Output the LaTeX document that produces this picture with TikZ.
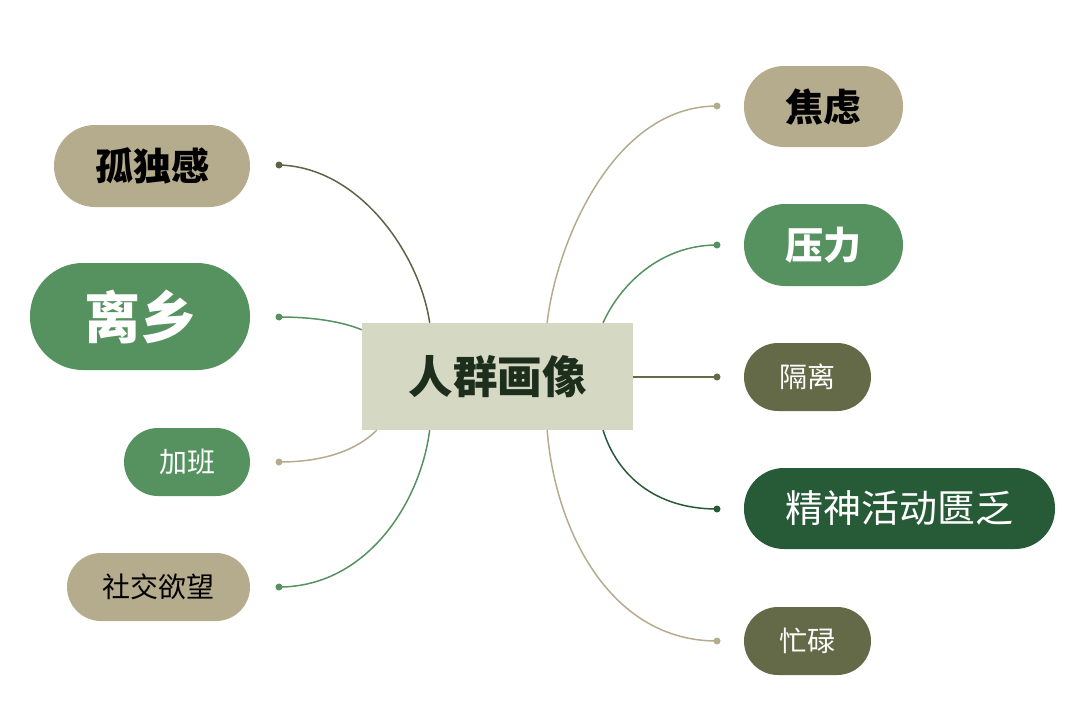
\documentclass[tikz,border=0pt]{standalone}
\usepackage{fontspec}
\setmainfont{Noto Sans CJK SC}
\newfontfamily\cjk{Noto Sans CJK SC}
\usetikzlibrary{calc}
\definecolor{tan}{HTML}{B5AB8D}
\definecolor{leaf}{HTML}{55925F}
\definecolor{olive}{HTML}{646A48}
\definecolor{deep}{HTML}{275A37}
\definecolor{core}{HTML}{D5D9C4}
\definecolor{coretext}{HTML}{1E2E1C}
\definecolor{darkline}{HTML}{5E6346}
\tikzset{
  pill/.style={draw=none, inner sep=0pt, font=\cjk},
  dot/.style={circle, inner sep=0pt, minimum size=7pt},
  link/.style={line width=1.5pt},
}
\begin{document}
\begin{tikzpicture}[x=1pt,y=-1pt]
\useasboundingbox (0,0) rectangle (1074,718);
% centre
\node[fill=core, minimum width=271pt, minimum height=107pt, inner sep=0pt, text=coretext, font=\cjk\bfseries\fontsize{44.5}{48}\selectfont] (c) at (497.5,376.5) {人群画像};
% left pills
\node[pill, fill=tan, minimum width=196pt, minimum height=82pt, rounded corners=41pt, text=black, font=\cjk\bfseries\fontsize{38}{42}\selectfont] (p1) at (152,166) {孤独感};
\node[pill, fill=leaf, minimum width=220pt, minimum height=107pt, rounded corners=53pt, text=white, font=\cjk\bfseries\fontsize{56}{60}\selectfont] (p2) at (140,316.5) {离乡};
\node[pill, fill=leaf, minimum width=126pt, minimum height=68pt, rounded corners=34pt, text=white, font=\cjk\fontsize{28}{32}\selectfont] (p3) at (187,462) {加班};
\node[pill, fill=tan, minimum width=183pt, minimum height=68pt, rounded corners=34pt, text=black, font=\cjk\fontsize{28}{32}\selectfont] (p4) at (158.5,587) {社交欲望};
% right pills
\node[pill, fill=tan, minimum width=159pt, minimum height=81pt, rounded corners=40pt, text=black, font=\cjk\bfseries\fontsize{38}{42}\selectfont] (q1) at (823.5,106.5) {焦虑};
\node[pill, fill=leaf, minimum width=159pt, minimum height=82pt, rounded corners=41pt, text=white, font=\cjk\bfseries\fontsize{38}{42}\selectfont] (q2) at (823.5,245) {压力};
\node[pill, fill=olive, minimum width=127pt, minimum height=68pt, rounded corners=34pt, text=white, font=\cjk\fontsize{28}{32}\selectfont] (q3) at (807.5,377) {隔离};
\node[pill, fill=deep, minimum width=311pt, minimum height=81pt, rounded corners=40pt, text=white, font=\cjk\fontsize{38}{42}\selectfont] (q4) at (899.5,508.5) {精神活动匮乏};
\node[pill, fill=olive, minimum width=127pt, minimum height=68pt, rounded corners=34pt, text=white, font=\cjk\fontsize{28}{32}\selectfont] (q5) at (807.5,641) {忙碌};
% dots
\node[dot, fill=darkline] (d1) at (279,165) {};
\node[dot, fill=leaf] (d2) at (279,317) {};
\node[dot, fill=tan] (d3) at (279,462) {};
\node[dot, fill=leaf] (d4) at (279,587) {};
\node[dot, fill=tan] (e1) at (717,106) {};
\node[dot, fill=leaf] (e2) at (717,245) {};
\node[dot, fill=olive] (e3) at (717,377) {};
\node[dot, fill=deep] (e4) at (717,509) {};
\node[dot, fill=tan] (e5) at (717,641) {};
% attachment points on the centre box
\coordinate (a1) at ($(c.north west)!0.25!(c.north east)$);
\coordinate (a2) at ($(c.north west)+(0,7)$);
\coordinate (a3) at ($(c.south west)!0.055!(c.south east)$);
\coordinate (a4) at ($(c.south west)!0.25!(c.south east)$);
\coordinate (b1) at ($(c.north west)!0.683!(c.north east)$);
\coordinate (b2) at ($(c.north west)!0.889!(c.north east)$);
\coordinate (b4) at ($(c.south west)!0.889!(c.south east)$);
\coordinate (b5) at ($(c.south west)!0.683!(c.south east)$);
% connectors
\draw[link, darkline] (d1.center) .. controls (360,167) and (420,255) .. (a1);
\draw[link, leaf] (d2.center) .. controls (315,317) and (343,322) .. (a2);
\draw[link, tan] (d3.center) .. controls (330,462) and (360,447) .. (a3);
\draw[link, leaf] (d4.center) .. controls (365,587) and (420,505) .. (a4);
\draw[link, tan] (e1.center) .. controls (610,106) and (555,250) .. (b1);
\draw[link, leaf] (e2.center) .. controls (660,245) and (620,285) .. (b2);
\draw[link, olive] (e3.center) -- (c.east |- e3);
\draw[link, deep] (e4.center) .. controls (655,509) and (617,475) .. (b4);
\draw[link, tan] (e5.center) .. controls (610,641) and (555,530) .. (b5);
\end{tikzpicture}
\end{document}
